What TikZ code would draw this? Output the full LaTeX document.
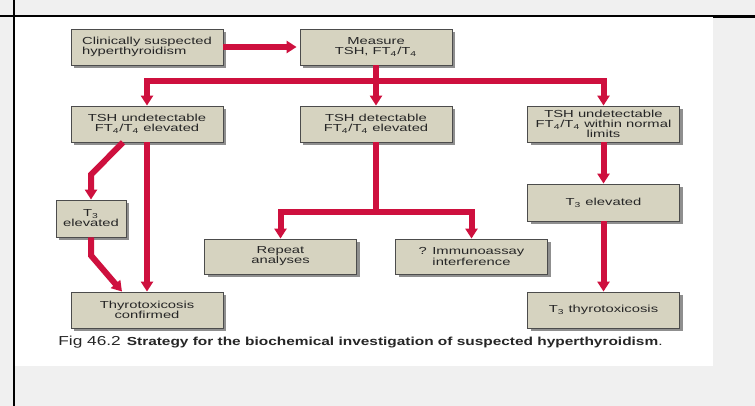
\documentclass[tikz,border=0pt]{standalone}
\usepackage{fontspec}
\usetikzlibrary{arrows.meta,positioning,calc,shadows}
\newfontfamily\boxfont[FakeStretch=1.45]{Liberation Sans}
\newfontfamily\capfont[FakeStretch=1.33]{Liberation Sans}
\definecolor{boxfill}{RGB}{214,211,192}
\definecolor{flowred}{RGB}{206,16,62}
\definecolor{pagegray}{RGB}{240,240,240}

\begin{document}
\begin{tikzpicture}[
  bx/.style={draw=black!70,line width=0.5pt,fill=boxfill,minimum width=3.04cm,minimum height=0.72cm,
    inner sep=1pt,align=center,text=black!85,font=\boxfont\fontsize{5.8pt}{5.7pt}\selectfont,
    drop shadow={shadow xshift=0.06cm,shadow yshift=-0.06cm,fill=black!55,opacity=0.8}},
  fl/.style={-{Triangle[width=0.24cm,length=0.2cm]},line width=0.12cm,draw=flowred}]
\useasboundingbox (0,0) rectangle (15.1,-8.12);
% page background and frame lines
\fill[pagegray] (0,0) rectangle (15.1,-8.12);
\fill[white] (0.3,-0.34) rectangle (14.26,-7.32);
\draw[line width=0.05cm] (0.28,0) -- (0.28,-8.12);
\draw[line width=0.03cm] (0,-0.32) -- (14.26,-0.32);
\draw[line width=0.06cm] (14.26,-0.33) -- (15.1,-0.33);
% boxes
\node[bx,align=left] (clin) at (2.94,-0.94) {Clinically suspected\\ hyperthyroidism};
\node[bx] (meas) at (7.52,-0.94) {Measure\\ TSH, FT\textsubscript{4}/T\textsubscript{4}};
\node[bx] (undet) at (2.94,-2.48) {TSH undetectable\\ FT\textsubscript{4}/T\textsubscript{4} elevated};
\node[bx] (det) at (7.52,-2.48) {TSH detectable\\ FT\textsubscript{4}/T\textsubscript{4} elevated};
\node[bx] (norm) at (12.07,-2.48) {TSH undetectable\\ FT\textsubscript{4}/T\textsubscript{4} within normal\\ limits};
\node[bx,minimum width=1.4cm,minimum height=0.74cm] (tleft) at (1.82,-4.37) {T\textsubscript{3}\\ elevated};
\node[bx] (conf) at (2.94,-6.2) {Thyrotoxicosis\\ confirmed};
\node[bx,minimum height=0.7cm] (rep) at (5.61,-5.13) {Repeat\\ analyses};
\node[bx,minimum height=0.7cm] (immu) at (9.43,-5.13) {? Immunoassay\\ interference};
\node[bx,minimum height=0.74cm] (tright) at (12.07,-4.05) {T\textsubscript{3} elevated};
\node[bx] (ttox) at (12.07,-6.2) {T\textsubscript{3} thyrotoxicosis};
% connectors
\coordinate (bar) at (7.52,-1.63);
\coordinate (dsplit) at (7.52,-4.24);
\draw[fl,shorten >=0.06cm] (clin) -- (meas);
\draw[fl] (meas.south) -- (det.north);
\draw[fl] (bar) -| (undet.north);
\draw[fl] (bar) -| (norm.north);
\draw[fl] ($(undet.south)+(-0.48,0)$) -- ($(tleft.north)+(0,0.5)$) -- (tleft.north);
\draw[fl] (undet.south) -- (conf.north);
\draw[fl] (tleft.south) -- ($(tleft.south)+(0,-0.36)$) -- ($(conf.north)+(-0.5,0)$);
\draw[line width=0.12cm,draw=flowred] (det.south) -- (dsplit);
\draw[fl] (dsplit) -| (rep.north);
\draw[fl] (dsplit) -| (immu.north);
\draw[fl] (norm.south) -- (tright.north);
\draw[fl] (tright.south) -- (ttox.north);
% caption
\node[anchor=west,inner sep=0pt,text=black!85] (cap) at (1.16,-6.85)
  {{\capfont\fontsize{7.4pt}{8pt}\selectfont Fig 46.2}\hspace{0.12cm}{\capfont\bfseries\fontsize{6.6pt}{7pt}\selectfont Strategy for the biochemical investigation of suspected hyperthyroidism}{\capfont\fontsize{6.6pt}{7pt}\selectfont .}};
\end{tikzpicture}
\end{document}
